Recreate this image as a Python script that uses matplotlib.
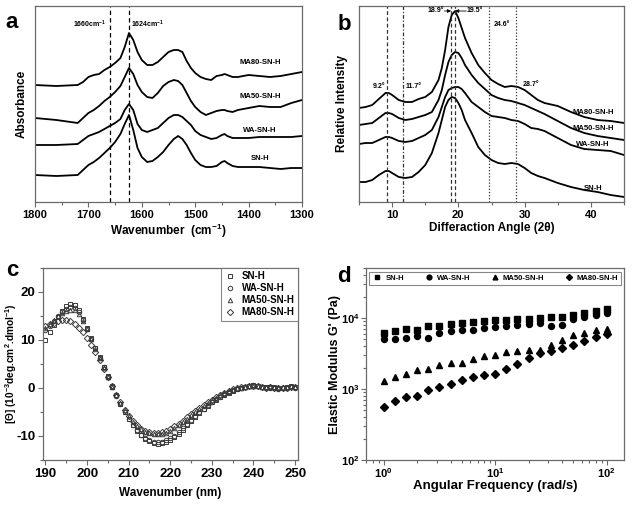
import numpy as np
import matplotlib
matplotlib.use('Agg')
from matplotlib import pyplot as plt
from matplotlib.ticker import MultipleLocator, LogLocator, NullFormatter

plt.rcParams['font.family'] = 'Liberation Sans'
plt.rcParams['font.weight'] = 'bold'
plt.rcParams['axes.labelweight'] = 'bold'
plt.rcParams['mathtext.fontset'] = 'custom'
plt.rcParams['mathtext.rm'] = 'Liberation Sans:bold'
plt.rcParams['mathtext.bf'] = 'Liberation Sans:bold'
plt.rcParams['mathtext.it'] = 'Liberation Sans:bold:italic'
plt.rcParams['mathtext.default'] = 'bf'
plt.rcParams['axes.unicode_minus'] = False

samples = ['SN-H', 'WA-SN-H', 'MA50-SN-H', 'MA80-SN-H']

#%% data, panel a (FTIR, offset spectra, arbitrary units)
wn_a = [1800, 1760, 1720, 1710, 1700, 1690, 1680, 1670, 1660, 1650, 1640, 1632, 1624, 1616,
        1608, 1600, 1590, 1580, 1570, 1560, 1550, 1540, 1532, 1524, 1516, 1508, 1500, 1490,
        1480, 1470, 1460, 1450, 1445, 1440, 1430, 1420, 1410, 1400, 1380, 1360, 1340, 1320, 1300]
abs_sn = [27, 26, 27, 32, 37, 40, 44, 49, 54, 60, 68, 78, 87, 72, 54, 45, 40, 41, 45, 50, 57, 63,
          66, 63, 57, 49, 42, 37, 35, 35, 36, 40, 41, 39, 36, 35, 35, 35, 35, 34, 33, 34, 34]
abs_wa = [57, 57, 58, 62, 66, 68, 70, 73, 76, 79, 83, 92, 98, 92, 78, 72, 70, 72, 74, 79, 84, 87,
          87, 85, 81, 77, 71, 67, 65, 63, 64, 67, 68, 66, 64, 64, 64, 64, 65, 65, 65, 65, 66]
abs_ma50 = [84, 82, 79, 84, 89, 92, 96, 101, 105, 110, 116, 125, 134, 128, 117, 110, 105, 104, 109,
            116, 120, 122, 121, 117, 109, 101, 95, 90, 87, 89, 91, 92, 92, 91, 90, 92, 93, 94, 96,
            95, 95, 99, 102]
abs_ma80 = [117, 116, 117, 120, 125, 127, 128, 132, 135, 139, 144, 155, 169, 162, 150, 142, 137, 137,
            140, 145, 150, 152, 152, 150, 141, 134, 129, 125, 123, 122, 126, 127, 128, 127, 125, 125,
            126, 127, 126, 125, 126, 128, 130]
bands_a = [1660, 1624]

#%% data, panel b (XRD, offset patterns)
theta_b = [5, 6, 7, 8, 9, 9.5, 10, 11, 12, 13, 14, 15, 16, 17, 17.5, 18, 18.5, 19, 19.5, 20, 20.5,
           21, 22, 23, 24, 25, 26, 27, 28, 29, 30, 31, 32, 33, 35, 37, 39, 41, 43, 45]
int_sn = [20, 20, 22, 27, 31, 31, 29, 25, 24, 25, 30, 37, 49, 69, 82, 95, 102, 105, 104, 99, 92, 82,
          69, 55, 47, 42, 39, 38, 39, 38, 34, 29, 26, 24, 19, 15, 12, 10, 7, 5]
int_wa = [58, 59, 59, 62, 65, 65, 64, 61, 60, 61, 64, 67, 72, 85, 95, 105, 112, 114, 115, 115, 113,
          109, 100, 95, 90, 86, 85, 84, 82, 81, 78, 74, 73, 71, 64, 57, 53, 52, 51, 47]
int_ma50 = [77, 78, 79, 84, 89, 89, 88, 84, 82, 83, 85, 87, 90, 102, 112, 127, 140, 147, 150, 149,
            144, 137, 127, 119, 113, 107, 104, 102, 101, 99, 97, 94, 91, 88, 81, 74, 69, 66, 64, 62]
int_ma80 = [94, 95, 97, 103, 109, 109, 107, 102, 100, 100, 103, 105, 110, 122, 134, 152, 175, 187,
            191, 184, 174, 164, 149, 137, 129, 122, 118, 115, 116, 115, 112, 107, 102, 99, 96, 90,
            85, 82, 81, 79]
peaks_b = [9.2, 11.7, 18.9, 19.5, 24.6, 28.7]
peak_styles = [(0, (3, 2)), (0, (3, 1.5, 1, 1.5)), (0, (3, 2)), (0, (3, 2)), (0, (1, 1.5)), (0, (1, 1.5))]

#%% data, panel c (CD spectra)
wl_c = np.arange(190, 251, 1)
cd_sn = [10.0, 11.6, 13.2, 14.8, 16.0, 17.0, 17.5, 17.3, 16.2, 14.4, 12.4, 10.4, 8.4, 6.4, 4.4, 2.4,
         0.4, -1.5, -3.3, -5.0, -6.5, -7.8, -8.9, -9.8, -10.6, -11.1, -11.5, -11.6, -11.5, -11.2,
         -10.8, -10.2, -9.5, -8.7, -7.8, -6.9, -6.0, -5.2, -4.4, -3.7, -3.0, -2.4, -1.9, -1.4, -1.0,
         -0.6, -0.3, 0.0, 0.2, 0.4, 0.6, 0.5, 0.3, 0.2, 0.3, 0.3, 0.1, 0.0, 0.2, 0.4, 0.2]
cd_wa = [12.0, 13.0, 14.0, 15.0, 15.9, 16.5, 16.8, 16.6, 15.8, 14.2, 12.3, 10.3, 8.3, 6.3, 4.3, 2.3,
         0.3, -1.6, -3.4, -5.0, -6.4, -7.7, -8.8, -9.7, -10.4, -10.9, -11.2, -11.3, -11.2, -10.9,
         -10.5, -9.9, -9.2, -8.4, -7.6, -6.7, -5.9, -5.1, -4.3, -3.6, -2.9, -2.3, -1.8, -1.3, -0.9,
         -0.5, -0.2, 0.1, 0.3, 0.5, 0.6, 0.4, 0.2, 0.0, -0.1, 0.0, -0.2, 0.0, 0.1, 0.2, 0.1]
cd_ma50 = [12.5, 13.3, 14.2, 15.0, 15.7, 16.1, 16.3, 16.2, 15.5, 14.0, 12.2, 10.2, 8.2, 6.2, 4.2, 2.2,
           0.3, -1.5, -3.1, -4.6, -5.9, -7.0, -7.9, -8.6, -9.1, -9.4, -9.6, -9.6, -9.5, -9.3, -8.9,
           -8.4, -7.8, -7.1, -6.4, -5.7, -5.0, -4.3, -3.7, -3.1, -2.5, -2.0, -1.5, -1.1, -0.7, -0.4,
           -0.1, 0.1, 0.3, 0.4, 0.5, 0.4, 0.3, 0.3, 0.4, 0.3, 0.2, 0.2, 0.3, 0.4, 0.3]
cd_ma80 = [13.0, 13.3, 13.6, 13.9, 14.1, 14.1, 13.9, 13.4, 12.6, 11.6, 10.4, 9.0, 7.5, 5.8, 4.0, 2.2,
           0.4, -1.4, -3.0, -4.5, -5.8, -6.9, -7.8, -8.5, -8.9, -9.2, -9.3, -9.3, -9.2, -8.9, -8.5,
           -8.0, -7.4, -6.8, -6.1, -5.4, -4.8, -4.1, -3.5, -2.9, -2.4, -1.9, -1.4, -1.0, -0.6, -0.3,
           0.0, 0.2, 0.3, 0.4, 0.5, 0.4, 0.2, 0.1, 0.2, 0.1, -0.1, 0.0, 0.1, 0.3, 0.2]

#%% data, panel d (frequency sweep, G')
freq_d = [1.0, 1.26, 1.58, 2.0, 2.51, 3.16, 3.98, 5.01, 6.31, 7.94, 10.0, 12.6, 15.8, 20.0, 25.1,
          31.6, 39.8, 50.1, 63.1, 79.4, 100.0]
g_sn = [6100, 6600, 7000, 6800, 7600, 7600, 8300, 8500, 8700, 9000, 9300, 9500, 9800, 9800, 10000,
        10200, 10200, 11200, 11800, 12400, 13200]
g_wa = [5000, 5000, 5200, 5600, 5200, 6100, 6600, 6800, 6800, 7200, 7400, 7800, 8000, 8300, 8500,
        7600, 8000, 9700, 10200, 11200, 11800]
g_ma50 = [1290, 1470, 1640, 1830, 1930, 2150, 2330, 2350, 2680, 2900, 3060, 3270, 3450, 3530, 3530,
          4160, 4900, 5780, 6240, 6670, 7050]
g_ma80 = [560, 667, 760, 803, 968, 1080, 1180, 1345, 1470, 1585, 1640, 1890, 2280, 2770, 3240, 3410,
          3810, 4160, 4800, 5360, 5980]

frame_col = '#6a6a6a'
W, H = 632, 505

fig = plt.figure(figsize=(W / 100, H / 100), dpi=100)
# axes rectangles from pixel boxes (left, top, right, bottom)
boxes = {'a': (35, 6, 302, 202), 'b': (359, 6, 624, 202), 'c': (43, 268, 298, 460), 'd': (366, 268, 624, 460)}
axes = {}
for k, (l, t, r, b) in boxes.items():
    axes[k] = fig.add_axes([l / W, 1 - b / H, (r - l) / W, (b - t) / H])
    for s in axes[k].spines.values():
        s.set_color(frame_col)
        s.set_linewidth(0.9)
    axes[k].tick_params(which='both', direction='out', color=frame_col, width=0.8, labelsize=8, pad=2)
    axes[k].tick_params(which='major', length=3.5)
    axes[k].tick_params(which='minor', length=2)

#%% panel a
ax = axes['a']
for vals in [abs_sn, abs_wa, abs_ma50, abs_ma80]:
    ax.plot(wn_a, vals, color='k', lw=1.3)
for band in bands_a:
    ax.axvline(band, color='k', lw=0.9, ls=(0, (3.5, 2.5)))
ax.set_xlim(1800, 1300)
ax.set_ylim(0, 196)
ax.set_yticks([])
ax.xaxis.set_major_locator(MultipleLocator(100))
ax.xaxis.set_minor_locator(MultipleLocator(50))
ax.text(1666, 178, '1660cm$^{-1}$', fontsize=5, ha='right', va='center')
ax.text(1621, 178, '1624cm$^{-1}$', fontsize=5, ha='left', va='center')
for name, y in zip(samples, [43, 72, 105, 139]):
    ax.text(1379, y, name, fontsize=5.5, ha='center', va='center')
ax.set_xlabel('Wavenumber  (cm$^{-1}$)', fontsize=8.5)
ax.set_ylabel('Absorbance', fontsize=8.5)
ax.xaxis.set_label_coords(0.5, -0.1)
ax.yaxis.set_label_coords(-0.027, 0.5)

#%% panel b
ax = axes['b']
for vals in [int_sn, int_wa, int_ma50, int_ma80]:
    ax.plot(theta_b, vals, color='k', lw=1.3)
for pk, st in zip(peaks_b, peak_styles):
    ax.axvline(pk, color='#333333', lw=0.9, ls=st)
ax.set_xlim(5, 45)
ax.set_ylim(0, 196)
ax.set_yticks([])
ax.xaxis.set_major_locator(MultipleLocator(10))
ax.xaxis.set_minor_locator(MultipleLocator(5))
ax.text(9.0, 116, '9.2°', fontsize=5, ha='right', va='center')
ax.text(12.0, 116, '11.7°', fontsize=5, ha='left', va='center')
ax.text(17.9, 191, '18.9°', fontsize=5, ha='right', va='center')
ax.text(21.3, 191, '19.5°', fontsize=5, ha='left', va='center')
ax.annotate('', xy=(18.9, 191), xytext=(17.9, 191),
            arrowprops=dict(arrowstyle='-|>', lw=0.6, color='k', mutation_scale=5, shrinkA=0, shrinkB=0))
ax.annotate('', xy=(19.5, 191), xytext=(21.2, 191),
            arrowprops=dict(arrowstyle='-|>', lw=0.6, color='k', mutation_scale=5, shrinkA=0, shrinkB=0))
ax.text(25.4, 178, '24.6°', fontsize=5, ha='left', va='center')
ax.text(29.7, 117, '28.7°', fontsize=5, ha='left', va='center')
for name, y in zip(samples, [14, 57, 74, 89]):
    ax.text(40.3, y, name, fontsize=5.5, ha='center', va='center')
ax.set_xlabel('Differaction Angle (2θ)', fontsize=8.5)
ax.set_ylabel('Relative Intensity', fontsize=8.5)
ax.xaxis.set_label_coords(0.5, -0.1)
ax.yaxis.set_label_coords(-0.04, 0.5)

#%% panel c
ax = axes['c']
for vals, name, mk in zip([cd_sn, cd_wa, cd_ma50, cd_ma80], samples, ['s', 'o', '^', 'D']):
    ax.plot(wl_c, vals, ls='none', marker=mk, ms=3.2, mfc='none', mec='#3a3a3a', mew=0.7, label=name)
ax.set_xlim(189.4, 250.7)
ax.set_ylim(-15, 25)
ax.xaxis.set_major_locator(MultipleLocator(10))
ax.xaxis.set_minor_locator(MultipleLocator(5))
ax.yaxis.set_major_locator(MultipleLocator(10))
ax.yaxis.set_minor_locator(MultipleLocator(5))
ax.tick_params(labelsize=9.5)
leg = ax.legend(loc='upper right', fontsize=7, frameon=True, fancybox=False, borderaxespad=0,
                handletextpad=0.6, labelspacing=0.2, borderpad=0.35, handlelength=1.2)
leg.get_frame().set_edgecolor(frame_col)
leg.get_frame().set_linewidth(0.8)
ax.set_xlabel('Wavenumber (nm)', fontsize=8.5)
ax.set_ylabel('[Θ] (10$^{-3}$deg.cm$^{2}$.dmol$^{-1}$)', fontsize=7.3)
ax.xaxis.set_label_coords(0.5, -0.14)
ax.yaxis.set_label_coords(-0.093, 0.5)

#%% panel d
ax = axes['d']
for vals, name, mk, ms in zip([g_sn, g_wa, g_ma50, g_ma80], samples, ['s', 'o', '^', 'D'], [4, 4.3, 4.3, 3.8]):
    ax.plot(freq_d, vals, ls='none', marker=mk, ms=ms, color='k', label=name)
ax.set_xscale('log')
ax.set_yscale('log')
ax.set_xlim(0.694, 143)
ax.set_ylim(100, 5.06e4)
ax.xaxis.set_minor_locator(LogLocator(subs=np.arange(2, 10)))
ax.yaxis.set_minor_locator(LogLocator(subs=np.arange(2, 10)))
ax.xaxis.set_minor_formatter(NullFormatter())
ax.yaxis.set_minor_formatter(NullFormatter())
ax.tick_params(labelsize=8, pad=1)
leg = ax.legend(loc='upper left', bbox_to_anchor=(0.012, 0.0, 0.976, 0.98), mode='expand', ncol=4,
                fontsize=5.5, frameon=True, fancybox=False, borderaxespad=0, handletextpad=0.3,
                borderpad=0.35, handlelength=1.5, markerscale=0.8)
leg.get_frame().set_edgecolor(frame_col)
leg.get_frame().set_linewidth(0.8)
ax.set_xlabel('Angular Frequency (rad/s)', fontsize=9.5)
ax.set_ylabel("Elastic Modulus G' (Pa)", fontsize=9)
ax.xaxis.set_label_coords(0.5, -0.105)
ax.yaxis.set_label_coords(-0.095, 0.5)

#%% panel letters
for letter, (x, y) in zip('abcd', [(12, 22), (344, 25), (12, 270), (344, 277)]):
    fig.text(x / W, 1 - y / H, letter, fontsize=16, fontweight='bold', ha='center', va='center')

fig.savefig('out.png', dpi=100)
